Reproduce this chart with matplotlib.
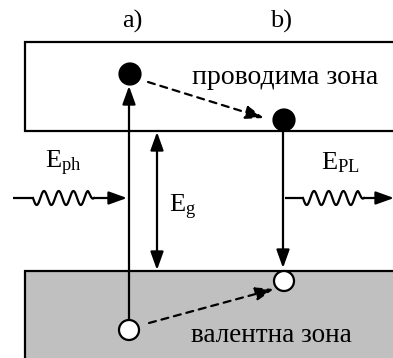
import numpy as np
import matplotlib
matplotlib.use("Agg")
import matplotlib.pyplot as plt
from matplotlib.patches import Rectangle, Circle, FancyArrowPatch

plt.rcParams['font.family'] = ['Liberation Serif', 'DejaVu Serif']
plt.rcParams['mathtext.fontset'] = 'custom'
plt.rcParams['mathtext.rm'] = 'Liberation Serif'
plt.rcParams['mathtext.it'] = 'Liberation Serif'

# --- content ---
panel_labels = ["a)", "b)"]
band_labels = ["проводима зона", "валентна зона"]
energy_labels = [r"$\mathrm{E_{ph}}$", r"$\mathrm{E_{g}}$", r"$\mathrm{E_{PL}}$"]

W, H = 393, 358
fig = plt.figure(figsize=(W / 100, H / 100), dpi=100)
ax = fig.add_axes([0, 0, 1, 1])
ax.set_xlim(0, W)
ax.set_ylim(H, 0)
ax.axis('off')

lw = 1.6
# bands
ax.add_patch(Rectangle((25, 42), 400, 89, facecolor='white', edgecolor='black', lw=lw))
ax.add_patch(Rectangle((25, 271), 400, 120, facecolor='#c0c0c0', edgecolor='black', lw=lw))

def arrow(p0, p1, ls='-', both=False):
    style = '<|-|>' if both else '-|>'
    a = FancyArrowPatch(p0, p1, arrowstyle=style + ',head_length=1.0,head_width=0.36',
                        mutation_scale=11, lw=lw, color='black', linestyle=ls,
                        shrinkA=0, shrinkB=0, zorder=3)
    ax.add_patch(a)

# vertical transitions
arrow((129, 320), (129, 86))
arrow((157, 132), (157, 270), both=True)
arrow((283, 131), (283, 268))
# dashed relaxations
arrow((148, 82), (264, 118), ls=(0, (3.2, 2.6)))
arrow((149, 323), (274, 289), ls=(0, (3.2, 2.6)))

# carriers
ax.add_patch(Circle((130, 74), 10.5, facecolor='black', edgecolor='black', lw=lw, zorder=4))
ax.add_patch(Circle((284, 120), 10.5, facecolor='black', edgecolor='black', lw=lw, zorder=4))
ax.add_patch(Circle((284, 281), 10, facecolor='white', edgecolor='black', lw=lw, zorder=4))
ax.add_patch(Circle((129, 330), 10, facecolor='white', edgecolor='black', lw=lw, zorder=4))

# photon waves
def wave(x0, xw0, xw1, x1, y):
    xs = np.linspace(xw0, xw1, 300)
    t = (xs - xw0) / (xw1 - xw0)
    env = np.clip((1 - t) / 0.1, 0, 1)
    ys = y + 7 * env * np.sin(2 * np.pi * 4.15 * t)
    ax.plot([x0, xw0], [y, y], color='black', lw=lw, solid_capstyle='butt')
    ax.plot(xs, ys, color='black', lw=lw)
    arrow((xw1, y), (x1, y))

wave(13, 33, 94, 127, 198)
wave(285, 303, 364, 394, 198)

# texts
ax.text(132, 21, panel_labels[0], fontsize=19, ha='center', va='center')
ax.text(281, 21, panel_labels[1], fontsize=19, ha='center', va='center')
ax.text(285, 77, band_labels[0], fontsize=20, ha='center', va='center')
ax.text(271, 335, band_labels[1], fontsize=19.5, ha='center', va='center')
ax.text(45, 163, energy_labels[0], fontsize=19, ha='left', va='center')
ax.text(169, 207, energy_labels[1], fontsize=19, ha='left', va='center')
ax.text(321, 163, energy_labels[2], fontsize=19, ha='left', va='center')

fig.savefig("out.png", dpi=100)
